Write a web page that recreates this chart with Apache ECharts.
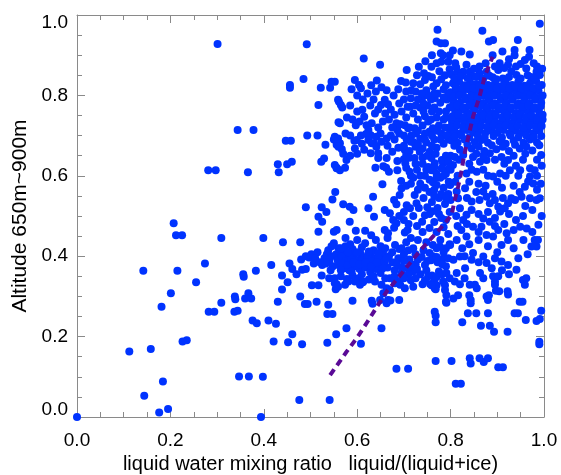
<!DOCTYPE html>
<html><head><meta charset="utf-8">
<script src="https://cdn.jsdelivr.net/npm/echarts@6/dist/echarts.min.js"></script>
<style>html,body{margin:0;padding:0;background:#fff}#c{width:561px;height:475px}</style>
</head><body><div id="c"></div>
<script>
var xTickLabels = ['0.0','0.2','0.4','0.6','0.8','1.0'];
var yTickLabels = ['0.0','0.2','0.4','0.6','0.8','1.0'];
var xTitle = 'liquid water mixing ratio   liquid/(liquid+ice)';
var yTitle = 'Altitude 650m~900m';

var pointsLeft = [[0.000,0.000],[0.112,0.163],[0.142,0.364],[0.144,0.053],[0.158,0.169],[0.176,0.011],[0.181,0.274],[0.184,0.088],[0.195,0.020],[0.201,0.308],[0.207,0.482],[0.212,0.452],[0.215,0.364],[0.225,0.452],[0.226,0.188],[0.235,0.191],[0.255,0.335],[0.274,0.382],[0.281,0.614],[0.282,0.262],[0.294,0.262],[0.297,0.614],[0.301,0.928],[0.309,0.445],[0.309,0.284],[0.337,0.262],[0.344,0.264],[0.338,0.300],[0.339,0.293],[0.344,0.714],[0.347,0.101],[0.356,0.355],[0.357,0.349],[0.360,0.295],[0.366,0.609],[0.367,0.308],[0.368,0.101],[0.373,0.295],[0.376,0.240],[0.378,0.714],[0.383,0.364],[0.385,0.233],[0.394,0.000],[0.398,0.100],[0.399,0.445],[0.410,0.240],[0.416,0.378],[0.421,0.188],[0.426,0.232],[0.430,0.287],[0.430,0.629],[0.432,0.609],[0.439,0.352],[0.439,0.317],[0.441,0.435],[0.447,0.687],[0.451,0.335],[0.450,0.629],[0.452,0.186],[0.455,0.382],[0.456,0.826],[0.456,0.819],[0.458,0.687],[0.460,0.635],[0.461,0.368],[0.461,0.206],[0.470,0.355],[0.476,0.042],[0.478,0.435],[0.478,0.300],[0.482,0.366],[0.482,0.181],[0.485,0.841],[0.488,0.281],[0.490,0.368],[0.490,0.522],[0.492,0.927],[0.493,0.700],[0.494,0.281],[0.497,0.397],[0.503,0.328],[0.507,0.382],[0.513,0.287],[0.515,0.700],[0.515,0.410],[0.517,0.776],[0.517,0.461],[0.517,0.498],[0.517,0.328],[0.522,0.819],[0.523,0.635],[0.524,0.522],[0.524,0.352],[0.525,0.378],[0.525,0.486],[0.529,0.643],[0.532,0.677],[0.534,0.510],[0.536,0.185],[0.536,0.256],[0.538,0.279],[0.540,0.345],[0.541,0.042],[0.542,0.819],[0.545,0.834],[0.547,0.541],[0.547,0.256],[0.550,0.690],[0.550,0.461],[0.550,0.432],[0.552,0.345],[0.554,0.318],[0.555,0.206],[0.556,0.330],[0.556,0.677],[0.556,0.620],[0.530,0.395],[0.535,0.405],[0.540,0.388],[0.545,0.400],[0.548,0.375],[0.538,0.415],[0.543,0.365],[0.533,0.382]];

var pointsBand = [[0.555,0.405],[0.562,0.395],[0.570,0.410],[0.578,0.398],[0.585,0.388],[0.592,0.402],[0.600,0.390],[0.608,0.405],[0.615,0.395],[0.622,0.385],[0.630,0.400],[0.638,0.392],[0.645,0.380],[0.652,0.395],[0.560,0.378],[0.572,0.370],[0.583,0.365],[0.595,0.375],[0.605,0.368],[0.618,0.372],[0.628,0.360],[0.640,0.368],[0.650,0.358],[0.565,0.350],[0.578,0.343],[0.590,0.352],[0.603,0.345],[0.612,0.335],[0.625,0.342],[0.560,0.420],[0.575,0.425],[0.590,0.418],[0.610,0.422],[0.635,0.415],[0.655,0.410],[0.668,0.400],[0.675,0.385],[0.688,0.395],[0.700,0.405],[0.712,0.392],[0.725,0.380],[0.738,0.398],[0.750,0.388],[0.762,0.400],[0.772,0.385],[0.785,0.395],[0.665,0.372],[0.680,0.365],[0.695,0.358],[0.708,0.370],[0.720,0.362],[0.735,0.355],[0.748,0.365],[0.760,0.352],[0.775,0.362],[0.790,0.375],[0.670,0.345],[0.690,0.338],[0.715,0.340],[0.740,0.330],[0.765,0.338],[0.552,0.333],[0.559,0.324],[0.574,0.329],[0.581,0.337],[0.595,0.337],[0.606,0.329],[0.613,0.337],[0.638,0.337],[0.652,0.329],[0.663,0.320],[0.656,0.308],[0.670,0.316],[0.681,0.333],[0.692,0.329],[0.702,0.320],[0.720,0.324],[0.756,0.331],[0.766,0.320],[0.597,0.463],[0.617,0.463],[0.617,0.432],[0.556,0.465],[0.702,0.459],[0.708,0.465],[0.681,0.428],[0.695,0.420],[0.659,0.465],[0.666,0.457],[0.665,0.445],[0.640,0.440],[0.650,0.425],[0.600,0.440],[0.575,0.445],[0.585,0.430],[0.630,0.452],[0.715,0.445],[0.730,0.440],[0.748,0.435],[0.762,0.428],[0.778,0.440],[0.790,0.420],[0.720,0.420],[0.705,0.435],[0.740,0.460],[0.755,0.470],[0.770,0.460],[0.785,0.472],[0.795,0.455],[0.728,0.475]];

var pointsBandExtra = [[0.558,0.390],[0.567,0.400],[0.575,0.388],[0.588,0.395],[0.598,0.408],[0.610,0.390],[0.622,0.400],[0.633,0.388],[0.645,0.398],[0.658,0.385],[0.663,0.395],[0.568,0.382],[0.580,0.378],[0.592,0.385],[0.605,0.380],[0.618,0.385],[0.630,0.375],[0.642,0.385],[0.655,0.370],[0.685,0.380],[0.700,0.388],[0.715,0.378],[0.730,0.392],[0.745,0.378],[0.758,0.390],[0.770,0.398],[0.782,0.380],[0.795,0.395],[0.695,0.372],[0.710,0.355],[0.728,0.368],[0.752,0.350],[0.770,0.348],[0.782,0.355],[0.798,0.345],[0.565,0.365],[0.588,0.362],[0.610,0.355],[0.635,0.350],[0.660,0.345],[0.680,0.350],[0.700,0.345],[0.725,0.345],[0.745,0.340],[0.675,0.410],[0.690,0.418],[0.710,0.415],[0.725,0.405],[0.742,0.415],[0.755,0.408],[0.770,0.420],[0.785,0.410],[0.798,0.430],[0.660,0.420],[0.645,0.408],[0.625,0.412],[0.600,0.410],[0.580,0.410],[0.565,0.420],[0.502,0.405],[0.510,0.395],[0.490,0.400],[0.480,0.392],[0.520,0.385],[0.545,0.425]];

var pointsLowerRight = [[0.577,0.221],[0.608,0.182],[0.652,0.221],[0.590,0.289],[0.631,0.289],[0.633,0.282],[0.649,0.291],[0.666,0.291],[0.690,0.291],[0.663,0.283],[0.671,0.290],[0.684,0.120],[0.709,0.120],[0.768,0.139],[0.802,0.139],[0.811,0.083],[0.822,0.083],[0.841,0.146],[0.843,0.133],[0.862,0.146],[0.871,0.137],[0.880,0.146],[0.902,0.124],[0.912,0.124],[0.768,0.252],[0.768,0.236],[0.766,0.262],[0.825,0.236],[0.837,0.258],[0.855,0.258],[0.865,0.227],[0.880,0.258],[0.884,0.227],[0.893,0.212],[0.922,0.212],[0.937,0.258],[0.944,0.258],[0.961,0.241],[0.984,0.239],[0.991,0.244],[0.994,0.264],[0.990,0.187],[0.990,0.181],[0.948,0.287],[0.954,0.287],[0.922,0.313],[0.923,0.305],[0.904,0.313],[0.877,0.300],[0.882,0.303],[0.880,0.291],[0.840,0.303],[0.843,0.291],[0.843,0.283],[0.806,0.295],[0.816,0.303],[0.791,0.284],[0.791,0.303],[0.788,0.328],[0.788,0.316],[0.770,0.328],[0.768,0.318],[0.759,0.328],[0.790,0.287],[0.852,0.329],[0.841,0.329],[0.897,0.314],[0.895,0.337],[0.955,0.341],[0.962,0.345]];

var pointsRightMid = [[0.784,0.631],[0.788,0.614],[0.805,0.627],[0.809,0.647],[0.827,0.652],[0.848,0.647],[0.863,0.635],[0.856,0.610],[0.834,0.606],[0.877,0.639],[0.884,0.656],[0.909,0.647],[0.923,0.639],[0.927,0.614],[0.906,0.606],[0.891,0.598],[0.949,0.614],[0.970,0.619],[0.980,0.614],[0.970,0.598],[0.966,0.586],[0.959,0.573],[0.977,0.581],[0.994,0.652],[0.799,0.577],[0.813,0.561],[0.831,0.569],[0.845,0.536],[0.834,0.503],[0.827,0.490],[0.820,0.519],[0.816,0.544],[0.870,0.561],[0.877,0.548],[0.884,0.532],[0.895,0.540],[0.902,0.523],[0.906,0.511],[0.916,0.519],[0.923,0.532],[0.930,0.544],[0.938,0.540],[0.952,0.548],[0.970,0.544],[0.984,0.540],[0.991,0.544],[0.848,0.473],[0.834,0.449],[0.823,0.465],[0.813,0.440],[0.799,0.428],[0.777,0.424],[0.891,0.449],[0.902,0.465],[0.920,0.457],[0.909,0.428],[0.923,0.440],[0.949,0.473],[0.963,0.469],[0.956,0.440],[0.973,0.424],[0.984,0.424],[0.988,0.478],[0.870,0.494],[0.884,0.486],[0.866,0.473],[0.877,0.453],[0.806,0.391],[0.820,0.399],[0.831,0.370],[0.848,0.408],[0.845,0.391],[0.870,0.399],[0.877,0.383],[0.888,0.370],[0.909,0.387],[0.923,0.378],[0.863,0.358],[0.891,0.350],[0.902,0.350],[0.813,0.358],[0.791,0.358],[0.784,0.337],[0.809,0.337],[0.856,0.320],[0.895,0.329],[0.959,0.329],[0.941,0.366],[0.980,0.440],[0.987,0.440],[0.995,0.500],[0.993,0.580]];

var pointsRightMidExtra = [[0.800,0.650],[0.818,0.640],[0.840,0.630],[0.855,0.655],[0.870,0.650],[0.895,0.640],[0.915,0.630],[0.935,0.650],[0.955,0.640],[0.960,0.655],[0.985,0.640],[0.995,0.625],[0.800,0.615],[0.815,0.600],[0.845,0.615],[0.870,0.615],[0.880,0.600],[0.900,0.585],[0.918,0.600],[0.940,0.625],[0.945,0.600],[0.985,0.600],[0.810,0.585],[0.840,0.585],[0.860,0.580],[0.875,0.575],[0.910,0.570],[0.935,0.575],[0.948,0.560],[0.985,0.565],[0.800,0.540],[0.835,0.545],[0.855,0.560],[0.862,0.540],[0.890,0.555],[0.912,0.545],[0.960,0.525],[0.975,0.515],[0.845,0.515],[0.860,0.505],[0.880,0.510],[0.895,0.495],[0.925,0.505],[0.940,0.490],[0.955,0.500],[0.812,0.500],[0.815,0.475],[0.835,0.480],[0.860,0.460],[0.895,0.475],[0.915,0.480],[0.935,0.465],[0.975,0.460],[0.840,0.430],[0.860,0.440],[0.880,0.425],[0.900,0.410],[0.935,0.420],[0.945,0.395],[0.965,0.405],[0.825,0.420],[0.830,0.400],[0.860,0.385],[0.895,0.395],[0.910,0.365],[0.925,0.355],[0.870,0.345],[0.830,0.345],[0.820,0.330]];

var pointsUpperMid = [[0.559,0.789],[0.565,0.776],[0.568,0.770],[0.561,0.784],[0.552,0.834],[0.560,0.733],[0.563,0.731],[0.595,0.838],[0.604,0.826],[0.608,0.818],[0.614,0.892],[0.642,0.837],[0.649,0.876],[0.652,0.820],[0.663,0.813],[0.651,0.776],[0.659,0.789],[0.666,0.778],[0.611,0.764],[0.615,0.747],[0.638,0.755],[0.597,0.726],[0.620,0.726],[0.631,0.731],[0.624,0.714],[0.629,0.701],[0.641,0.697],[0.636,0.681],[0.619,0.704],[0.552,0.697],[0.559,0.693],[0.556,0.685],[0.563,0.681],[0.560,0.672],[0.567,0.666],[0.594,0.687],[0.599,0.689],[0.595,0.668],[0.624,0.689],[0.631,0.681],[0.641,0.672],[0.629,0.656],[0.663,0.693],[0.684,0.731],[0.686,0.714],[0.694,0.836],[0.704,0.832],[0.706,0.863],[0.732,0.871],[0.552,0.627],[0.556,0.619],[0.563,0.614],[0.574,0.620],[0.577,0.639],[0.645,0.656],[0.645,0.644],[0.663,0.644],[0.639,0.620],[0.656,0.624],[0.662,0.620],[0.668,0.610],[0.686,0.614],[0.686,0.637],[0.700,0.641],[0.702,0.664],[0.705,0.652],[0.703,0.631],[0.705,0.620],[0.694,0.587],[0.654,0.579],[0.695,0.569],[0.691,0.552],[0.679,0.540],[0.684,0.529],[0.659,0.515],[0.670,0.507],[0.634,0.548],[0.624,0.519],[0.636,0.498],[0.584,0.523],[0.592,0.515],[0.584,0.486],[0.570,0.529],[0.553,0.560],[0.677,0.490],[0.684,0.482],[0.679,0.471],[0.772,0.963],[0.770,0.934],[0.779,0.930],[0.779,0.905],[0.788,0.930],[0.784,0.900],[0.780,0.884],[0.795,0.884],[0.743,0.855],[0.752,0.848],[0.759,0.871],[0.716,0.813],[0.715,0.793],[0.713,0.772],[0.745,0.838],[0.748,0.813],[0.741,0.797],[0.763,0.822],[0.766,0.793],[0.702,0.726],[0.709,0.718],[0.723,0.718],[0.700,0.700],[0.706,0.690],[0.716,0.700],[0.726,0.705],[0.735,0.692],[0.745,0.748],[0.752,0.735],[0.760,0.760],[0.770,0.745],[0.775,0.725],[0.785,0.740],[0.790,0.760],[0.780,0.705],[0.765,0.690],[0.755,0.710],[0.740,0.725],[0.730,0.740],[0.720,0.755],[0.735,0.770],[0.750,0.775],[0.765,0.770],[0.778,0.782],[0.792,0.790],[0.798,0.720],[0.795,0.690],[0.785,0.680],[0.770,0.670],[0.755,0.660],[0.740,0.668],[0.725,0.672],[0.712,0.662],[0.720,0.684],[0.748,0.683],[0.762,0.718],[0.795,0.805],[0.785,0.815],[0.772,0.805],[0.730,0.790],[0.725,0.810],[0.735,0.828],[0.788,0.850],[0.798,0.865],[0.776,0.860],[0.723,0.644],[0.734,0.660],[0.759,0.644],[0.766,0.631],[0.781,0.639],[0.781,0.619],[0.759,0.614],[0.745,0.600],[0.755,0.590],[0.762,0.584],[0.770,0.577],[0.778,0.595],[0.790,0.605],[0.796,0.585],[0.745,0.570],[0.706,0.527],[0.713,0.519],[0.727,0.532],[0.723,0.552],[0.745,0.502],[0.739,0.486],[0.761,0.512],[0.735,0.580],[0.715,0.600],[0.728,0.615],[0.740,0.630],[0.752,0.622],[0.770,0.605],[0.785,0.570],[0.795,0.555],[0.775,0.545],[0.760,0.535],[0.750,0.522],[0.772,0.520],[0.788,0.530],[0.798,0.510],[0.780,0.495],[0.765,0.485]];

var pointsUpperMidExtra = [[0.672,0.700],[0.680,0.690],[0.690,0.705],[0.675,0.720],[0.692,0.728],[0.668,0.740],[0.680,0.752],[0.695,0.760],[0.705,0.745],[0.690,0.780],[0.700,0.790],[0.678,0.800],[0.688,0.815],[0.705,0.810],[0.720,0.830],[0.728,0.850],[0.760,0.845],[0.770,0.830],[0.780,0.840],[0.790,0.825],[0.770,0.880],[0.760,0.900],[0.798,0.900],[0.805,0.912],[0.810,0.880],[0.746,0.885],[0.708,0.772],[0.725,0.775],[0.742,0.780],[0.758,0.790],[0.742,0.760],[0.758,0.740],[0.775,0.760],[0.790,0.745],[0.798,0.770],[0.785,0.795],[0.765,0.805],[0.752,0.800],[0.738,0.805],[0.712,0.720],[0.730,0.712],[0.745,0.705],[0.760,0.700],[0.772,0.712],[0.788,0.720],[0.798,0.705],[0.790,0.700],[0.778,0.690],[0.760,0.675],[0.745,0.690],[0.730,0.680],[0.715,0.685],[0.700,0.675],[0.688,0.670],[0.675,0.660],[0.665,0.675],[0.652,0.685],[0.650,0.705],[0.655,0.735],[0.645,0.720],[0.660,0.755],[0.672,0.765],[0.645,0.765],[0.628,0.775],[0.635,0.790],[0.622,0.805],[0.640,0.810],[0.630,0.825],[0.612,0.790],[0.600,0.800],[0.588,0.815],[0.585,0.775],[0.600,0.760],[0.578,0.745],[0.590,0.740],[0.605,0.735],[0.575,0.705],[0.585,0.700],[0.608,0.700],[0.610,0.680],[0.615,0.665],[0.600,0.655],[0.585,0.650],[0.570,0.655],[0.712,0.645],[0.725,0.630],[0.740,0.645],[0.750,0.650],[0.768,0.655],[0.790,0.650],[0.795,0.635],[0.798,0.620],[0.712,0.610],[0.720,0.595],[0.735,0.600],[0.748,0.615],[0.765,0.620],[0.770,0.595],[0.785,0.600],[0.705,0.575],[0.715,0.580],[0.730,0.565],[0.755,0.560],[0.765,0.565],[0.780,0.555],[0.790,0.545],[0.765,0.550],[0.742,0.545],[0.732,0.520],[0.755,0.505],[0.775,0.505],[0.790,0.490],[0.720,0.500],[0.700,0.510],[0.700,0.490],[0.690,0.500],[0.710,0.480]];

var pointsUpperRight = [[0.868,0.961],[0.882,0.934],[0.891,0.938],[0.944,0.938],[0.991,0.978],[0.823,0.909],[0.841,0.902],[0.890,0.900],[0.911,0.909],[0.937,0.913],[0.937,0.900],[0.969,0.913],[0.968,0.896],[0.834,0.876],[0.827,0.859],[0.841,0.859],[0.862,0.872],[0.905,0.880],[0.950,0.878],[0.985,0.872],[0.925,0.890],[0.802,0.852],[0.815,0.858],[0.862,0.855],[0.877,0.859],[0.902,0.863],[0.923,0.876],[0.941,0.851],[0.959,0.888],[0.962,0.867],[0.984,0.859],[0.991,0.851],[0.848,0.848],[0.890,0.845],[0.912,0.842],[0.930,0.860],[0.972,0.846],[0.805,0.830],[0.818,0.835],[0.830,0.825],[0.842,0.832],[0.855,0.828],[0.868,0.835],[0.880,0.826],[0.895,0.830],[0.905,0.822],[0.918,0.832],[0.932,0.826],[0.945,0.834],[0.958,0.824],[0.970,0.830],[0.983,0.836],[0.995,0.826],[0.800,0.808],[0.812,0.812],[0.826,0.805],[0.838,0.815],[0.850,0.806],[0.862,0.812],[0.875,0.805],[0.887,0.812],[0.900,0.804],[0.912,0.814],[0.925,0.806],[0.938,0.812],[0.950,0.803],[0.963,0.810],[0.976,0.805],[0.988,0.813],[0.997,0.800],[0.806,0.786],[0.820,0.782],[0.832,0.790],[0.846,0.783],[0.858,0.789],[0.871,0.781],[0.883,0.788],[0.896,0.780],[0.908,0.790],[0.920,0.782],[0.933,0.789],[0.946,0.780],[0.958,0.788],[0.969,0.781],[0.981,0.789],[0.994,0.782],[0.810,0.760],[0.824,0.765],[0.836,0.757],[0.850,0.764],[0.864,0.757],[0.877,0.762],[0.890,0.756],[0.903,0.765],[0.915,0.758],[0.928,0.764],[0.940,0.756],[0.953,0.763],[0.966,0.758],[0.978,0.766],[0.990,0.757],[0.803,0.735],[0.816,0.740],[0.829,0.732],[0.843,0.738],[0.856,0.731],[0.869,0.740],[0.882,0.733],[0.894,0.739],[0.907,0.731],[0.920,0.738],[0.933,0.732],[0.946,0.740],[0.959,0.733],[0.972,0.739],[0.985,0.731],[0.997,0.740],[0.808,0.712],[0.821,0.706],[0.835,0.714],[0.848,0.708],[0.861,0.713],[0.874,0.706],[0.887,0.712],[0.900,0.707],[0.913,0.714],[0.926,0.706],[0.939,0.712],[0.952,0.707],[0.964,0.714],[0.977,0.706],[0.990,0.712],[0.802,0.688],[0.815,0.682],[0.830,0.690],[0.852,0.684],[0.866,0.689],[0.880,0.682],[0.905,0.686],[0.918,0.680],[0.935,0.688],[0.956,0.682],[0.970,0.690],[0.985,0.683],[0.820,0.665],[0.845,0.668],[0.872,0.662],[0.898,0.666],[0.925,0.662],[0.948,0.668],[0.975,0.663]];

var pointsUpperRightExtra = [[0.812,0.870],[0.850,0.866],[0.875,0.880],[0.895,0.872],[0.915,0.868],[0.940,0.872],[0.978,0.880],[0.996,0.866],[0.808,0.842],[0.822,0.848],[0.836,0.843],[0.855,0.846],[0.870,0.842],[0.883,0.849],[0.898,0.840],[0.925,0.846],[0.950,0.842],[0.965,0.850],[0.980,0.842],[0.811,0.820],[0.824,0.817],[0.836,0.822],[0.849,0.818],[0.861,0.823],[0.874,0.818],[0.887,0.822],[0.899,0.817],[0.912,0.824],[0.926,0.818],[0.939,0.823],[0.952,0.818],[0.964,0.822],[0.977,0.818],[0.990,0.824],[0.806,0.797],[0.819,0.800],[0.832,0.794],[0.844,0.799],[0.857,0.796],[0.869,0.800],[0.881,0.795],[0.893,0.799],[0.906,0.796],[0.918,0.800],[0.931,0.795],[0.944,0.799],[0.957,0.796],[0.970,0.800],[0.982,0.795],[0.995,0.798],[0.802,0.772],[0.815,0.775],[0.828,0.770],[0.840,0.774],[0.853,0.771],[0.866,0.775],[0.879,0.770],[0.891,0.774],[0.904,0.771],[0.917,0.775],[0.929,0.770],[0.942,0.774],[0.955,0.771],[0.967,0.775],[0.980,0.770],[0.993,0.773],[0.804,0.748],[0.817,0.752],[0.830,0.746],[0.843,0.751],[0.856,0.745],[0.870,0.750],[0.884,0.746],[0.897,0.751],[0.910,0.745],[0.922,0.750],[0.935,0.746],[0.948,0.751],[0.961,0.746],[0.973,0.750],[0.986,0.745],[0.997,0.752],[0.801,0.722],[0.814,0.726],[0.827,0.720],[0.840,0.725],[0.853,0.720],[0.866,0.724],[0.879,0.720],[0.892,0.725],[0.905,0.720],[0.918,0.725],[0.931,0.720],[0.944,0.724],[0.957,0.720],[0.970,0.725],[0.983,0.720],[0.995,0.724],[0.809,0.697],[0.823,0.700],[0.840,0.695],[0.858,0.700],[0.873,0.695],[0.892,0.699],[0.910,0.695],[0.928,0.700],[0.945,0.695],[0.962,0.700],[0.978,0.696],[0.994,0.699],[0.808,0.675],[0.836,0.678],[0.860,0.673],[0.888,0.676],[0.912,0.672],[0.938,0.677],[0.962,0.673],[0.990,0.676]];

var fitLineX = [0.542,0.577,0.599,0.627,0.663,0.684,0.720,0.741,0.763,0.781,0.802,0.809,0.816,0.823,0.828,0.834,0.848,0.862,0.873,0.890];
var fitLineY = [0.104,0.162,0.196,0.246,0.312,0.341,0.393,0.422,0.450,0.473,0.502,0.540,0.573,0.610,0.644,0.677,0.747,0.797,0.847,0.896];

var allPoints = pointsLeft.concat(pointsBand, pointsBandExtra, pointsLowerRight, pointsRightMid, pointsRightMidExtra, pointsUpperMid, pointsUpperMidExtra, pointsUpperRight, pointsUpperRightExtra);
var fitLine = fitLineX.map(function(x,i){return [x, fitLineY[i]];});

var FONT = "'Liberation Sans', Arial, Helvetica, sans-serif";
var axisGray = '#8a8a8a';
function makeAxis(isX, showLabels, pos) {
  var labels = isX ? xTickLabels : yTickLabels;
  var a = {
    type:'value', min:0, max:1, interval:0.2, position: pos,
    axisLine:{show:true, onZero:false, lineStyle:{color:axisGray, width:1}},
    axisTick:{show:true, inside:true, length:8, lineStyle:{color:axisGray}},
    minorTick:{show:true, splitNumber:4, length:5, lineStyle:{color:axisGray}},
    splitLine:{show:false},
    axisLabel:{show:showLabels, color:'#000', fontSize:19, fontFamily:FONT, margin: isX?14:9,
      formatter:function(v){ return labels[Math.round(v/0.2)]; }}
  };
  if (!isX) {
    var ts = {fontSize:19, fontFamily:FONT, color:'#000'};
    a.axisLabel.formatter = function(v){
      var i = Math.round(v/0.2);
      if (i === 0) return '{lo|' + labels[i] + '}';
      if (i === labels.length - 1) return '{hi|' + labels[i] + '}';
      return '{n|' + labels[i] + '}';
    };
    a.axisLabel.rich = {
      lo: Object.assign({padding:[0,0,14,0]}, ts),
      hi: Object.assign({padding:[16,0,0,0]}, ts),
      n: Object.assign({}, ts)
    };
  }
  return a;
}
var xa = makeAxis(true, true, 'bottom');
xa.name = xTitle; xa.nameLocation = 'middle'; xa.nameGap = 35;
xa.nameTextStyle = {color:'#000', fontSize:20, fontFamily:FONT};
var ya = makeAxis(false, true, 'left');
ya.name = yTitle; ya.nameLocation = 'middle'; ya.nameGap = 45;
ya.nameTextStyle = {color:'#000', fontSize:21, fontFamily:FONT};

var chart = echarts.init(document.getElementById('c'), null, {renderer:'canvas'});
chart.setOption({
  animation:false,
  backgroundColor:'#fff',
  grid:{left:77, right:17, top:15, bottom:58, containLabel:false, outerBoundsMode:'none'},
  xAxis:[xa, makeAxis(true, false, 'top')],
  yAxis:[ya, makeAxis(false, false, 'right')],
  series:[
    {type:'scatter', data:allPoints, symbol:'circle', symbolSize:8, itemStyle:{color:'#0033ff', opacity:1}, silent:true, z:2},
    {type:'line', data:fitLine, showSymbol:false, symbol:'none', lineStyle:{color:'#5a0a96', width:4, type:[7,5]}, silent:true, z:3}
  ]
});
</script></body></html>
